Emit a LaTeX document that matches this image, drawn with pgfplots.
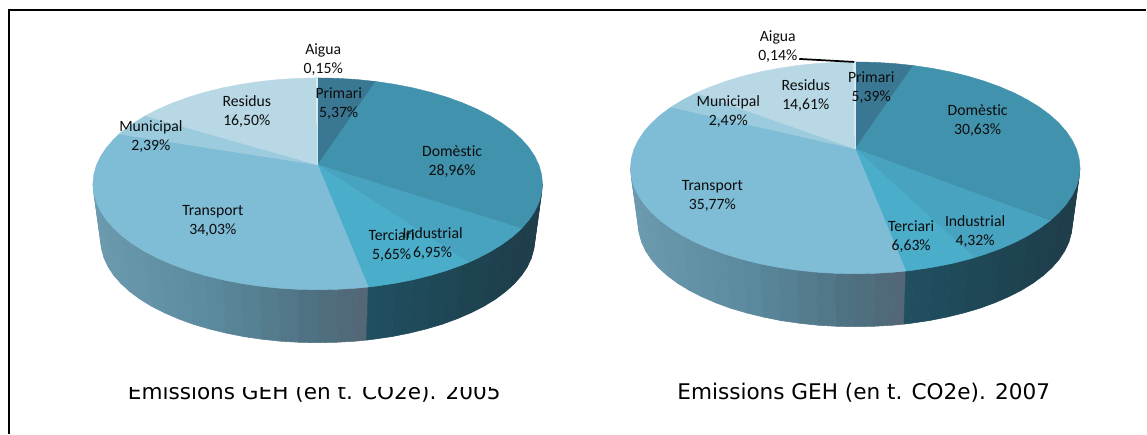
\documentclass[border=0pt]{standalone}
\usepackage{pgfplots}
\pgfplotsset{compat=1.18}
\usepackage{pgfplotstable}
\usepackage{fontspec}
\setmainfont[Ligatures=NoCommon]{Carlito}
\newfontfamily\verd{DejaVu Sans}
\definecolor{cPri}{HTML}{3A7793}
\definecolor{cDom}{HTML}{4092AD}
\definecolor{cInd}{HTML}{47A3BF}
\definecolor{cTer}{HTML}{4AADCA}
\definecolor{cTra}{HTML}{7FBCD6}
\definecolor{cMun}{HTML}{9BCBDD}
\definecolor{cRes}{HTML}{B9D8E5}
\definecolor{cAig}{HTML}{D6EAF2}
\pgfplotstableread[row sep=\\]{
x y\\
-225 0\\ -224.1 -9.2\\ -216.2 -65.9\\ -217 -57\\
-224.1 -9.2\\ -221.6 -18.4\\ -213.7 -74.7\\ -216.2 -65.9\\
-221.6 -18.4\\ -217.3 -27.4\\ -209.6 -83.4\\ -213.7 -74.7\\
-217.3 -27.4\\ -211.4 -36.3\\ -203.9 -91.9\\ -209.6 -83.4\\
-211.4 -36.3\\ -203.9 -44.8\\ -196.7 -100.1\\ -203.9 -91.9\\
-203.9 -44.8\\ -194.9 -53\\ -187.9 -108\\ -196.7 -100.1\\
-194.9 -53\\ -184.3 -60.8\\ -177.8 -115.5\\ -187.9 -108\\
-184.3 -60.8\\ -172.4 -68.1\\ -166.2 -122.6\\ -177.8 -115.5\\
-172.4 -68.1\\ -159.1 -75\\ -153.4 -129.1\\ -166.2 -122.6\\
-159.1 -75\\ -144.6 -81.2\\ -139.5 -135.1\\ -153.4 -129.1\\
-144.6 -81.2\\ -129.1 -86.8\\ -124.5 -140.6\\ -139.5 -135.1\\
-129.1 -86.8\\ -112.5 -91.8\\ -108.5 -145.3\\ -124.5 -140.6\\
-112.5 -91.8\\ -95.1 -96.1\\ -91.7 -149.4\\ -108.5 -145.3\\
-95.1 -96.1\\ -77 -99.6\\ -74.2 -152.9\\ -91.7 -149.4\\
-77 -99.6\\ -58.2 -102.4\\ -56.2 -155.5\\ -74.2 -152.9\\
-58.2 -102.4\\ -39.1 -104.4\\ -37.7 -157.5\\ -56.2 -155.5\\
-39.1 -104.4\\ -19.6 -105.6\\ -18.9 -158.6\\ -37.7 -157.5\\
-19.6 -105.6\\ 0 -106\\ 0 -159\\ -18.9 -158.6\\
0 -106\\ 19.6 -105.6\\ 18.9 -158.6\\ 0 -159\\
19.6 -105.6\\ 39.1 -104.4\\ 37.7 -157.5\\ 18.9 -158.6\\
39.1 -104.4\\ 50.6 -103.3\\ 48.8 -156.4\\ 37.7 -157.5\\
}\sideL
\pgfplotstableread[row sep=\\]{
x y\\
50.6 -103.3\\ 58.2 -102.4\\ 56.2 -155.5\\ 48.8 -156.4\\
58.2 -102.4\\ 77 -99.6\\ 74.2 -152.9\\ 56.2 -155.5\\
77 -99.6\\ 95.1 -96.1\\ 91.7 -149.4\\ 74.2 -152.9\\
95.1 -96.1\\ 112.5 -91.8\\ 108.5 -145.3\\ 91.7 -149.4\\
112.5 -91.8\\ 129.1 -86.8\\ 124.5 -140.6\\ 108.5 -145.3\\
129.1 -86.8\\ 144.6 -81.2\\ 139.5 -135.1\\ 124.5 -140.6\\
144.6 -81.2\\ 159.1 -75\\ 153.4 -129.1\\ 139.5 -135.1\\
159.1 -75\\ 172.4 -68.1\\ 166.2 -122.6\\ 153.4 -129.1\\
172.4 -68.1\\ 184.3 -60.8\\ 177.8 -115.5\\ 166.2 -122.6\\
184.3 -60.8\\ 194.9 -53\\ 187.9 -108\\ 177.8 -115.5\\
194.9 -53\\ 203.9 -44.8\\ 196.7 -100.1\\ 187.9 -108\\
203.9 -44.8\\ 211.4 -36.3\\ 203.9 -91.9\\ 196.7 -100.1\\
211.4 -36.3\\ 217.3 -27.4\\ 209.6 -83.4\\ 203.9 -91.9\\
217.3 -27.4\\ 221.6 -18.4\\ 213.7 -74.7\\ 209.6 -83.4\\
221.6 -18.4\\ 224.1 -9.2\\ 216.2 -65.9\\ 213.7 -74.7\\
224.1 -9.2\\ 225 0\\ 217 -57\\ 216.2 -65.9\\
}\sideD
\pgfplotsset{
  pieaxis/.style={
    at={(0,0)},anchor=south west,scale only axis,width=860.25pt,height=325.5pt,
    hide axis,clip=false,enlargelimits=false,
    colormap={sl}{rgb255(0cm)=(108,155,175) rgb255(5cm)=(90,136,156) rgb255(9cm)=(78,112,128) rgb255(11cm)=(84,102,116)},
    colormap={sd}{rgb255(0cm)=(32,80,97) rgb255(4cm)=(30,68,82) rgb255(7cm)=(31,60,74)},
  },
  w/.style={fill=#1,draw=#1,line width=0.3pt,no markers},
}
\tikzset{lab/.style={font=\fontsize{11.8}{14.25}\selectfont,align=center,inner sep=0pt,text=black!95}}
\begin{document}
\begin{tikzpicture}
\fill[white] (0,0) rectangle (860.25pt,325.5pt);
% Pie 2005
\begin{axis}[pieaxis,xmin=-318,xmax=829,ymin=-250,ymax=184]
\addplot[patch,patch type=rectangle,shader=flat,point meta=x,point meta rel=per plot,colormap name=sl] table[x=x,y=y] {\sideL};
\addplot[patch,patch type=rectangle,shader=flat,point meta=x,point meta rel=per plot,colormap name=sd] table[x=x,y=y] {\sideD};
\addplot[w=cPri] coordinates {(0,19)(0,106)(19.6,105.6)(39.1,104.4)(58.2,102.4)} -- cycle;
\addplot[w=cDom] coordinates {(0,19)(58.2,102.4)(77,99.6)(95.1,96.1)(112.5,91.8)(129.1,86.8)(144.6,81.2)(159.1,75)(172.4,68.1)(184.3,60.8)(194.9,53)(203.9,44.8)(211.4,36.3)(217.3,27.4)(221.6,18.4)(224.1,9.2)(225,0)(224.1,-9.2)(221.6,-18.4)(217.3,-27.4)(211.4,-36.3)(203.9,-44.8)} -- cycle;
\addplot[w=cInd] coordinates {(0,19)(203.9,-44.8)(194.9,-53)(184.3,-60.8)(172.4,-68.1)(159.1,-75)(150.6,-78.8)} -- cycle;
\addplot[w=cTer] coordinates {(0,19)(150.6,-78.8)(144.6,-81.2)(129.1,-86.8)(112.5,-91.8)(95.1,-96.1)(77,-99.6)(58.2,-102.4)(50.6,-103.3)} -- cycle;
\addplot[w=cTra] coordinates {(0,19)(50.6,-103.3)(39.1,-104.4)(19.6,-105.6)(0,-106)(-19.6,-105.6)(-39.1,-104.4)(-58.2,-102.4)(-77,-99.6)(-95.1,-96.1)(-112.5,-91.8)(-129.1,-86.8)(-144.6,-81.2)(-159.1,-75)(-172.4,-68.1)(-184.3,-60.8)(-194.9,-53)(-203.9,-44.8)(-211.4,-36.3)(-217.3,-27.4)(-221.6,-18.4)(-224.1,-9.2)(-225,0)(-224.1,9.2)(-221.6,18.4)(-217.3,27.4)(-211.4,36.3)(-203.9,44.8)(-198.7,49.8)} -- cycle;
\addplot[w=cMun] coordinates {(0,19)(-198.7,49.8)(-194.9,53)(-184.3,60.8)(-172.4,68.1)} -- cycle;
\addplot[w=cRes] coordinates {(0,19)(-172.4,68.1)(-159.1,75)(-144.6,81.2)(-129.1,86.8)(-112.5,91.8)(-95.1,96.1)(-77,99.6)(-58.2,102.4)(-39.1,104.4)(-19.6,105.6)(-1.5,106)} -- cycle;
\addplot[w=cAig,line width=0pt] coordinates {(0,19)(-1.5,106)(0,106)} -- cycle;
\node[lab] at (axis cs:5.5,124.5) {Aigua\\0,15\%};
\node[lab] at (axis cs:21,80) {Primari\\5,37\%};
\node[lab] at (axis cs:134.5,22.5) {Domèstic\\28,96\%};
\node[lab] at (axis cs:74,-61.5) {Terciari\\5,65\%};
\node[lab] at (axis cs:115,-59.5) {Industrial\\6,95\%};
\node[lab] at (axis cs:-105,-37) {Transport\\34,03\%};
\node[lab] at (axis cs:-167,47) {Municipal\\2,39\%};
\node[lab] at (axis cs:-71,72.5) {Residus\\16,50\%};
\end{axis}
% Pie 2007
\begin{axis}[pieaxis,xmin=-856,xmax=291,ymin=-266,ymax=168]
\addplot[patch,patch type=rectangle,shader=flat,point meta=x,point meta rel=per plot,colormap name=sl] table[x=x,y=y] {\sideL};
\addplot[patch,patch type=rectangle,shader=flat,point meta=x,point meta rel=per plot,colormap name=sd] table[x=x,y=y] {\sideD};
\addplot[w=cPri] coordinates {(0,19)(0,106)(19.6,105.6)(39.1,104.4)(58.2,102.4)} -- cycle;
\addplot[w=cDom] coordinates {(0,19)(58.2,102.4)(77,99.6)(95.1,96.1)(112.5,91.8)(129.1,86.8)(144.6,81.2)(159.1,75)(172.4,68.1)(184.3,60.8)(194.9,53)(203.9,44.8)(211.4,36.3)(217.3,27.4)(221.6,18.4)(224.1,9.2)(225,0)(224.1,-9.2)(221.6,-18.4)(217.3,-27.4)(211.4,-36.3)(203.9,-44.8)(194.9,-53)} -- cycle;
\addplot[w=cInd] coordinates {(0,19)(194.9,-53)(184.3,-60.8)(172.4,-68.1)(159.1,-75)(144.6,-81.2)(129.1,-86.8)(119.2,-89.9)} -- cycle;
\addplot[w=cTer] coordinates {(0,19)(119.2,-89.9)(112.5,-91.8)(95.1,-96.1)(77,-99.6)(58.2,-102.4)(50.6,-103.3)} -- cycle;
\addplot[w=cTra] coordinates {(0,19)(50.6,-103.3)(39.1,-104.4)(19.6,-105.6)(0,-106)(-19.6,-105.6)(-39.1,-104.4)(-58.2,-102.4)(-77,-99.6)(-95.1,-96.1)(-112.5,-91.8)(-129.1,-86.8)(-144.6,-81.2)(-159.1,-75)(-172.4,-68.1)(-184.3,-60.8)(-194.9,-53)(-203.9,-44.8)(-211.4,-36.3)(-217.3,-27.4)(-221.6,-18.4)(-224.1,-9.2)(-225,0)(-224.1,9.2)(-221.6,18.4)(-217.3,27.4)(-211.4,36.3)(-203.9,44.8)(-194.9,53)(-184.3,60.8)} -- cycle;
\addplot[w=cMun] coordinates {(0,19)(-184.3,60.8)(-172.4,68.1)(-159.1,75)} -- cycle;
\addplot[w=cRes] coordinates {(0,19)(-159.1,75)(-144.6,81.2)(-129.1,86.8)(-112.5,91.8)(-95.1,96.1)(-77,99.6)(-58.2,102.4)(-39.1,104.4)(-19.6,105.6)(-1.5,106)} -- cycle;
\addplot[w=cAig,line width=0pt] coordinates {(0,19)(-1.5,106)(0,106)} -- cycle;
\addplot[black,line width=1.3pt,no markers] coordinates {(-56,109)(-1,106)};
\node[lab] at (axis cs:-77.5,121.5) {Aigua\\0,14\%};
\node[lab] at (axis cs:16,80) {Primari\\5,39\%};
\node[lab] at (axis cs:122.5,47) {Domèstic\\30,63\%};
\node[lab] at (axis cs:56,-68.5) {Terciari\\6,63\%};
\node[lab] at (axis cs:120,-63.5) {Industrial\\4,32\%};
\node[lab] at (axis cs:-143,-28) {Transport\\35,77\%};
\node[lab] at (axis cs:-127,56) {Municipal\\2,49\%};
\node[lab] at (axis cs:-49.5,72.5) {Residus\\14,61\%};
\end{axis}
% titles and frame (pixel units: 0.75pt, y measured from the top)
\begin{scope}[x=0.75pt,y=-0.75pt,shift={(0pt,325.5pt)}]
\node[font=\verd\fontsize{16.2}{18}\selectfont,inner sep=0pt] at (314.5,393) {Emissions GEH (en t. CO2e). 2005};
\fill[white] (120,370) rectangle (510,387);
\node[font=\verd\fontsize{16.2}{18}\selectfont,inner sep=0pt] at (864.5,393) {Emissions GEH (en t. CO2e). 2007};
\draw[black,line width=1.6pt] (9,434) -- (9,10) -- (1147,10);
\end{scope}
\end{tikzpicture}
\end{document}
